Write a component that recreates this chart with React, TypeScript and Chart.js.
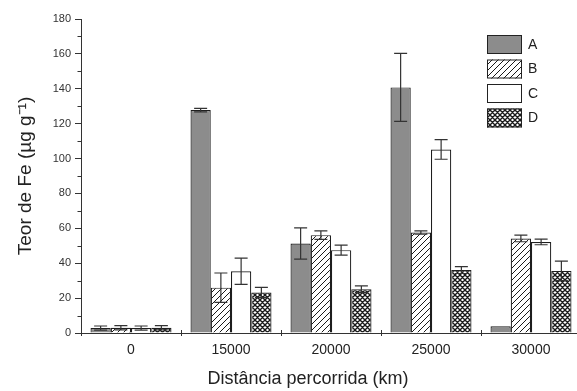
import React, { useEffect, useRef } from 'react';
import { Chart, registerables } from 'chart.js';

Chart.register(...registerables);

const categories = ['0', '15000', '20000', '25000', '30000'];
const seriesNames = ['A', 'B', 'C', 'D'];
const valuesA = [2.8, 127.8, 51.3, 140.8, 3.8];
const errorsA = [1.2, 1, 9, 19.5, 0];
const valuesB = [3, 26, 56.1, 57.6, 54.2];
const errorsB = [1.2, 8.4, 2.4, 1, 1.9];
const valuesC = [2.8, 35.4, 47.5, 105.2, 52.2];
const errorsC = [1.2, 7.5, 2.9, 5.6, 1.6];
const valuesD = [3, 23.2, 25.1, 36.1, 35.6];
const errorsD = [1.2, 2.9, 1.9, 2, 5.6];
const yTicks = [0, 20, 40, 60, 80, 100, 120, 140, 160, 180];

const FONT = "'Liberation Sans', Arial, sans-serif";

function makeHatch(kind: 'diag' | 'cross'): CanvasPattern | string {
  const c = document.createElement('canvas');
  const s = kind === 'diag' ? 6 : 5;
  c.width = s;
  c.height = s;
  const g = c.getContext('2d');
  if (!g) return '#fff';
  g.fillStyle = '#fff';
  g.fillRect(0, 0, s, s);
  g.strokeStyle = '#1a1a1a';
  g.lineWidth = kind === 'diag' ? 1 : 1.4;
  g.beginPath();
  g.moveTo(-1, s + 1);
  g.lineTo(s + 1, -1);
  g.moveTo(-1, 1);
  g.lineTo(1, -1);
  g.moveTo(s - 1, s + 1);
  g.lineTo(s + 1, s - 1);
  if (kind === 'cross') {
    g.moveTo(-1, -1);
    g.lineTo(s + 1, s + 1);
    g.moveTo(s - 1, -1);
    g.lineTo(s + 1, 1);
    g.moveTo(-1, s - 1);
    g.lineTo(1, s + 1);
  }
  g.stroke();
  const p = g.createPattern(c, 'repeat');
  return p || '#fff';
}

export default function App() {
  const ref = useRef<HTMLCanvasElement | null>(null);

  useEffect(() => {
    const canvas = ref.current;
    if (!canvas) return;
    const errors = [errorsA, errorsB, errorsC, errorsD];
    const fills = ['#8c8c8c', makeHatch('diag'), '#ffffff', makeHatch('cross')];
    const vals = [valuesA, valuesB, valuesC, valuesD];

    const extras = {
      id: 'extras',
      afterDatasetsDraw(chart: any) {
        const ctx = chart.ctx;
        const y = chart.scales.y;
        ctx.save();
        ctx.strokeStyle = '#333';
        ctx.lineWidth = 1.2;
        chart.data.datasets.forEach((ds: any, i: number) => {
          const meta = chart.getDatasetMeta(i);
          meta.data.forEach((bar: any, j: number) => {
            const e = errors[i][j];
            if (!e) return;
            const v = ds.data[j];
            const yt = y.getPixelForValue(v + e);
            const yb = y.getPixelForValue(Math.max(0, v - e));
            const x = bar.x;
            ctx.beginPath();
            ctx.moveTo(x, yt);
            ctx.lineTo(x, yb);
            ctx.moveTo(x - 6.5, yt);
            ctx.lineTo(x + 6.5, yt);
            if (v - e > 0) {
              ctx.moveTo(x - 6.5, yb);
              ctx.lineTo(x + 6.5, yb);
            }
            ctx.stroke();
          });
        });
        ctx.restore();
      },
      afterDraw(chart: any) {
        const ctx = chart.ctx;
        const y = chart.scales.y;
        const x = chart.scales.x;
        const area = chart.chartArea;
        ctx.save();
        // minor y ticks
        ctx.strokeStyle = '#333';
        ctx.lineWidth = 1;
        ctx.beginPath();
        for (let k = 0; k < yTicks.length - 1; k++) {
          const v = (yTicks[k] + yTicks[k + 1]) / 2;
          const py = Math.round(y.getPixelForValue(v)) + 0.5;
          ctx.moveTo(area.left - 3.5, py);
          ctx.lineTo(area.left, py);
        }
        // x boundary ticks
        for (let k = 0; k < categories.length; k++) {
          const px = Math.round(x.getPixelForValue(k) - (x.getPixelForValue(1) - x.getPixelForValue(0)) / 2) + 0.5;
          ctx.moveTo(px, area.bottom - 3);
          ctx.lineTo(px, area.bottom + 3);
        }
        ctx.stroke();

        // legend
        const lx = 487;
        const ly0 = 35;
        const step = 24.5;
        ctx.font = `14px ${FONT}`;
        ctx.textBaseline = 'middle';
        ctx.textAlign = 'left';
        seriesNames.forEach((name, i) => {
          const top = ly0 + i * step;
          ctx.fillStyle = fills[i] as any;
          ctx.fillRect(lx, top, 35, 19);
          ctx.strokeStyle = '#222';
          ctx.lineWidth = 1;
          ctx.strokeRect(lx + 0.5, top + 0.5, 34, 18);
          ctx.fillStyle = '#222';
          ctx.fillText(name, 528, top + 10);
        });

        // axis titles
        ctx.fillStyle = '#222';
        ctx.font = `18px ${FONT}`;
        ctx.textAlign = 'center';
        ctx.textBaseline = 'middle';
        ctx.fillText('Distância percorrida (km)', 308, 379);
        ctx.save();
        ctx.translate(26, (area.top + area.bottom) / 2);
        ctx.rotate(-Math.PI / 2);
        ctx.font = `19px ${FONT}`;
        ctx.fillText('Teor de Fe (µg g⁻¹)', 0, 0);
        ctx.restore();
        ctx.restore();
      },
    };

    const chart = new Chart(canvas, {
      type: 'bar',
      data: {
        labels: categories,
        datasets: seriesNames.map((name, i) => ({
          label: name,
          data: vals[i],
          backgroundColor: fills[i] as any,
          borderColor: '#1e1e1e',
          borderWidth: 1.2,
          categoryPercentage: 0.81,
          barPercentage: 1,
        })),
      },
      options: {
        responsive: false,
        animation: false,
        devicePixelRatio: 1,
        layout: { padding: { top: 19, right: 19, left: 0, bottom: 0 } },
        plugins: { legend: { display: false }, tooltip: { enabled: false } },
        scales: {
          x: {
            offset: true,
            grid: { display: false, drawTicks: false },
            border: { display: true, color: '#333', width: 1 },
            ticks: { color: '#222', font: { family: FONT, size: 14 }, padding: 9, maxRotation: 0 },
            afterFit: (s: any) => { s.height = 58; },
          },
          y: {
            min: 0,
            max: 180,
            grid: { drawOnChartArea: false, drawTicks: true, tickLength: 6, color: '#333' },
            border: { display: true, color: '#333', width: 1 },
            ticks: { stepSize: 20, color: '#333', font: { family: FONT, size: 11 }, padding: 4 },
            afterFit: (s: any) => { s.width = 81; },
          },
        },
      },
      plugins: [extras],
    });
    return () => chart.destroy();
  }, []);

  return (
    <div style={{ position: 'fixed', left: 0, top: 0, width: 577, height: 391, overflow: 'hidden', background: '#fff' }}>
      <canvas ref={ref} width={600} height={391} style={{ display: 'block' }} />
    </div>
  );
}
